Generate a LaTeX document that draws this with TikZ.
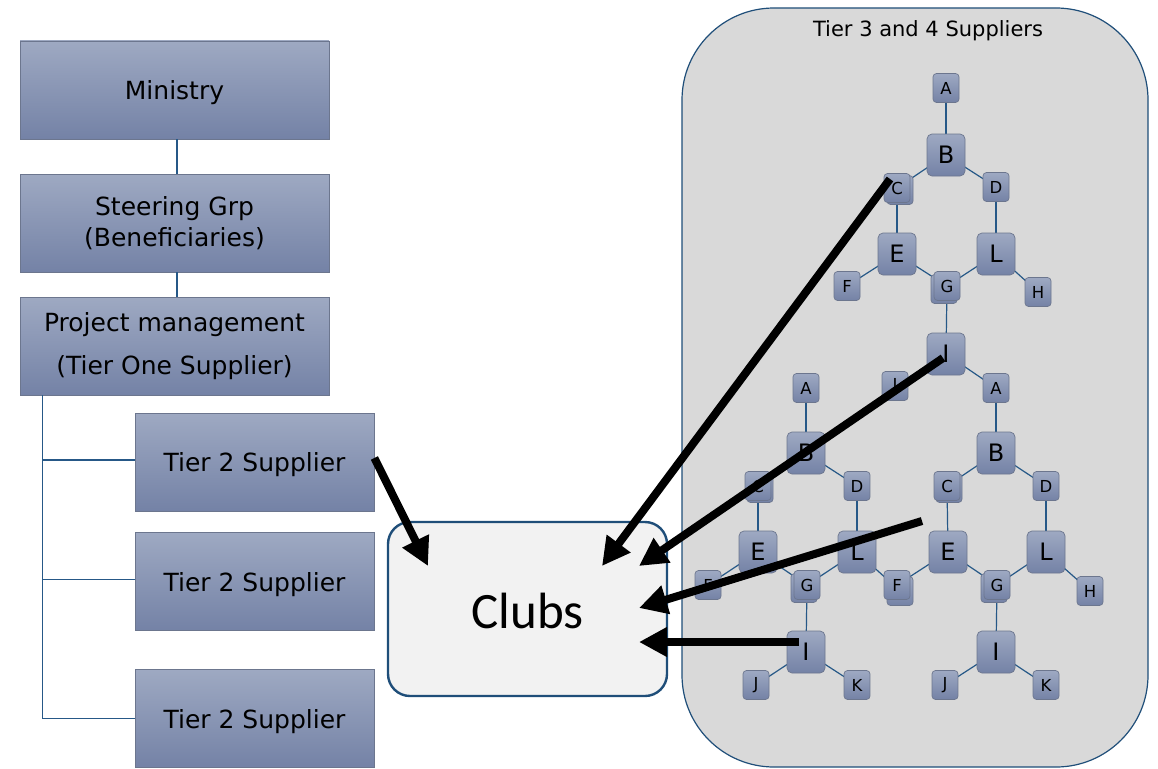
\documentclass[tikz,border=0pt]{standalone}
\usepackage{fontspec}
\setmainfont{DejaVu Sans}
\newfontfamily\clubsfont{Carlito}
\usetikzlibrary{arrows.meta,calc}
\pgfdeclarelayer{back}
\pgfdeclarelayer{mid}
\pgfdeclarelayer{front}
\pgfsetlayers{back,mid,main,front}

\definecolor{boxtop}{RGB}{158,169,194}
\definecolor{boxbot}{RGB}{116,130,166}
\definecolor{boxline}{RGB}{108,118,142}
\definecolor{linkblue}{RGB}{38,88,135}
\definecolor{navy}{RGB}{31,78,121}
\definecolor{panel}{RGB}{217,217,217}
\definecolor{clubfill}{RGB}{242,242,242}

\tikzset{
  orgbox/.style={rectangle, draw=boxline, line width=0.8pt,
    top color=boxtop, bottom color=boxbot,
    minimum width=309pt, minimum height=98pt, inner sep=0pt,
    align=center, font=\fontsize{25}{31}\selectfont},
  supbox/.style={orgbox, minimum width=239pt, text depth=0pt},
  leaf/.style={rectangle, rounded corners=3.5pt, draw=boxline, line width=0.7pt,
    top color=boxtop, bottom color=boxbot,
    minimum width=26pt, minimum height=29pt, inner sep=0pt,
    font=\fontsize{16.5}{16.5}\selectfont},
  hub/.style={leaf, minimum width=38pt, minimum height=42pt,
    rounded corners=5pt, font=\fontsize{24}{24}\selectfont},
  treelink/.style={draw=linkblue, line width=1.2pt},
  orglink/.style={draw=linkblue, line width=1.3pt},
  feed/.style={line width=8pt, -{Triangle[length=28pt,width=28pt]}}
}

\begin{document}
\begin{tikzpicture}[x=1pt,y=-1pt]
\useasboundingbox (0,0) rectangle (1158,768);

% ---- tier 3/4 panel ----
\begin{pgfonlayer}{back}
\node[rectangle, rounded corners=92pt, draw=navy, line width=1.2pt, fill=panel,
  minimum width=466pt, minimum height=759pt, inner sep=0pt] (panel) at (915,387.5) {};
\end{pgfonlayer}
\node[font=\fontsize{21}{21}\selectfont] (paneltitle) at (928,31) {Tier 3 and 4 Suppliers};

% ---- organisation chain ----
\node[orgbox, text depth=0pt] (ministry) at (174.5,90) {Ministry};
\node[orgbox] (steer) at (174.5,223) {Steering Grp\\(Beneficiaries)};
\node[orgbox, font=\fontsize{25}{43}\selectfont] (pm) at (174.5,346) {Project management\\(Tier One Supplier)};
\node[supbox] (t2a) at (254.5,462) {Tier 2 Supplier};
\node[supbox] (t2b) at (254.5,581.5) {Tier 2 Supplier};
\node[supbox] (t2c) at (254.5,718.5) {Tier 2 Supplier};

\draw[orglink] (ministry.south -| 177,0) -- (steer.north -| 177,0);
\draw[orglink] (steer.south -| 177,0) -- (pm.north -| 177,0);
\coordinate (trunk) at ($(pm.south west)+(23,0)$);
\draw[orglink] (trunk) |- (t2c.west);
\draw[orglink] (trunk |- t2a.west) ++(0,-2) -- ($(t2a.west)+(0,-2)$);
\draw[orglink] (trunk |- t2b.west) ++(0,-2) -- ($(t2b.west)+(0,-2)$);

% ---- clubs ----
\node[rectangle, rounded corners=22pt, draw=navy, line width=2.4pt, fill=clubfill,
  minimum width=279pt, minimum height=174pt, inner sep=0pt] (clubs) at (527.5,609) {};
\node[font=\clubsfont\fontsize{51}{51}\selectfont] (clubslabel) at (527.5,611) {Clubs};

% ---- supplier trees: overlapping copies ----
\node[leaf] (aCx) at (900,190) {};
\node[leaf] (aGx) at (944,289) {};
\node[leaf] (bCx) at (760,488) {};
\node[leaf] (bGx) at (804,588) {};
\node[leaf] (bH) at (900,591) {};
\node[leaf] (cCx) at (949,488) {};
\node[leaf] (cGx) at (994,588) {};

% upper tree
\node[leaf] (aA) at (946,88) {A};
\node[hub]  (aB) at (946,155) {B};
\node[leaf] (aC) at (897,188) {C};
\node[leaf] (aD) at (996,187) {D};
\node[hub]  (aE) at (897,254) {E};
\node[hub]  (aL) at (996,254) {L};
\node[leaf] (aF) at (847,286) {F};
\node[leaf] (aG) at (947,286) {G};
\node[leaf] (aH) at (1038,292) {H};
\node[hub]  (aI) at (946,354) {I};
\node[leaf] (aJ) at (895,386) {J};

% lower left tree
\node[leaf] (bA) at (806,388) {A};
\node[hub]  (bB) at (806,453) {B};
\node[leaf] (bC) at (758,486) {C};
\node[leaf] (bD) at (857,486) {D};
\node[hub]  (bE) at (758,552) {E};
\node[hub]  (bL) at (857,552) {L};
\node[leaf] (bF) at (708,585) {F};
\node[leaf] (bG) at (807,585) {G};
\node[hub]  (bI) at (806,652) {I};
\node[leaf] (bJ) at (756,685) {J};
\node[leaf] (bK) at (857,685) {K};

% lower right tree
\node[leaf] (cA) at (996,388) {A};
\node[hub]  (cB) at (996,453) {B};
\node[leaf] (cC) at (947,486) {C};
\node[leaf] (cD) at (1046,486) {D};
\node[hub]  (cE) at (948,552) {E};
\node[hub]  (cL) at (1046,552) {L};
\node[leaf] (cF) at (897,585) {F};
\node[leaf] (cG) at (997,585) {G};
\node[leaf] (cH) at (1090,591) {H};
\node[hub]  (cI) at (996,652) {I};
\node[leaf] (cJ) at (945,685) {J};
\node[leaf] (cK) at (1046,685) {K};

\begin{pgfonlayer}{mid}
\foreach \p/\q in {A/B,B/C,B/D,C/E,D/L,E/F,E/G,L/G,L/H,G/I,I/J}
  \draw[treelink] (a\p.center) -- (a\q.center);
\draw[treelink] (aI.center) -- (cA.center);
\foreach \p/\q in {A/B,B/C,B/D,C/E,D/L,E/F,E/G,L/G,L/H,G/I,I/J,I/K}{
  \draw[treelink] (b\p.center) -- (b\q.center);
  \draw[treelink] (c\p.center) -- (c\q.center);
}
\end{pgfonlayer}

% ---- feeds into the clubs ----
\coordinate (s2) at (890,179);
\coordinate (s3) at (943,358);
\coordinate (s4) at (922,521);
\coordinate (s5) at (799,642);
\coordinate (e1) at (428,566);
\coordinate (e2) at (602,566);
\coordinate (e3) at (639,566);
\coordinate (e4) at (639,608);
\coordinate (e5) at (639,642);
\begin{pgfonlayer}{front}
\draw[feed] ($(t2a.east)+(0,-4)$) -- (e1);
\draw[feed] (s2) -- (e2);
\draw[feed] (s3) -- (e3);
\draw[feed] (s4) -- (e4);
\draw[feed] (s5) -- (e5);
\end{pgfonlayer}
\end{tikzpicture}
\end{document}
